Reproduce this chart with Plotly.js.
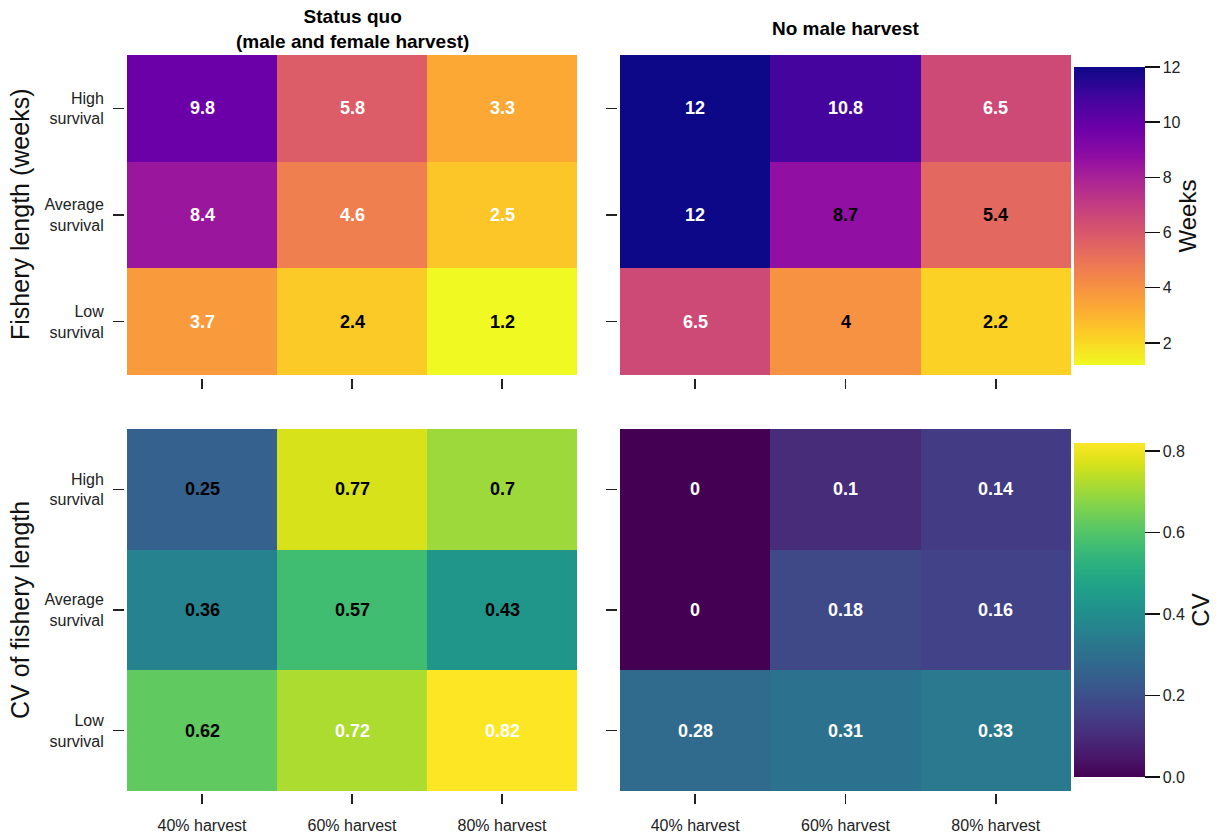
<!DOCTYPE html>
<html>
<head>
<meta charset="utf-8">
<script src="https://cdn.plot.ly/plotly-3.0.1.min.js"></script>
<style>html,body{margin:0;padding:0;background:#fff;}#chart{width:1225px;height:836px;}</style>
</head>
<body>
<div id="chart"></div>
<script>
// ---- data ----
const harvestLevels = ['40% harvest', '60% harvest', '80% harvest'];
const survivalLevels = ['Low survival', 'Average survival', 'High survival'];
const panelTitles = ['Status quo<br>(male and female harvest)', 'No male harvest'];
const rowTitles = ['Fishery length (weeks)', 'CV of fishery length'];
const colorbarTitles = ['Weeks', 'CV'];

// rows ordered Low, Average, High survival
const weeksStatusQuo = [[3.7, 2.4, 1.2], [8.4, 4.6, 2.5], [9.8, 5.8, 3.3]];
const weeksNoMale    = [[6.5, 4, 2.2], [12, 8.7, 5.4], [12, 10.8, 6.5]];
const cvStatusQuo    = [[0.62, 0.72, 0.82], [0.36, 0.57, 0.43], [0.25, 0.77, 0.7]];
const cvNoMale       = [[0.28, 0.31, 0.33], [0, 0.18, 0.16], [0, 0.1, 0.14]];

const weeksTicks = [2, 4, 6, 8, 10, 12];
const cvTicks = [0, 0.2, 0.4, 0.6, 0.8];

// label colours per cell (w = white, k = black), same row order
const txtWeeksStatusQuo = [['w','k','k'], ['w','w','w'], ['w','w','w']];
const txtWeeksNoMale    = [['w','k','k'], ['w','k','k'], ['w','w','w']];
const txtCvStatusQuo    = [['k','w','w'], ['k','k','k'], ['k','k','k']];
const txtCvNoMale       = [['w','w','w'], ['w','w','w'], ['w','w','w']];

// ---- styling ----
const W = 1225, H = 836;
const px = v => v / W;
const py = v => 1 - v / H;
const FONT = 'Liberation Sans, Arial, sans-serif';

const plasmaR = [[0,'#f0f921'],[0.1,'#fcce25'],[0.2,'#fca636'],[0.3,'#f2844b'],[0.4,'#e16462'],
  [0.5,'#cc4778'],[0.6,'#b12a90'],[0.7,'#8f0da4'],[0.8,'#6a00a8'],[0.9,'#41049d'],[1,'#0d0887']];

const colL = [127, 577], colR = [620, 1071];
const rowT = [55, 375], rowB = [429, 791];

function hm(z, xa, ya, scale, zmin, zmax, cb) {
  return {
    type: 'heatmap', z: z, x: harvestLevels, y: survivalLevels,
    xaxis: xa, yaxis: ya, colorscale: scale, zmin: zmin, zmax: zmax,
    showscale: !!cb, colorbar: cb, xgap: 0, ygap: 0, hoverinfo: 'x+y+z'
  };
}

function cbar(top, bottom, ticks, title, fmt) {
  return {
    x: px(1074), xanchor: 'left', xpad: 0, ypad: 0,
    y: py((top + bottom) / 2), yanchor: 'middle',
    thickness: 71, thicknessmode: 'pixels',
    len: bottom - top, lenmode: 'pixels',
    tickvals: ticks, tickformat: fmt, ticks: 'outside', ticklen: 15, tickwidth: 1.5, tickcolor: '#111',
    tickfont: {family: FONT, size: 16, color: '#222'},
    outlinewidth: 0,
    title: {text: title, side: 'right', font: {family: FONT, size: 24, color: '#111'}}
  };
}

const data = [
  hm(weeksStatusQuo, 'x', 'y', plasmaR, 1.2, 12, null),
  hm(weeksNoMale, 'x2', 'y2', plasmaR, 1.2, 12, cbar(67, 365, weeksTicks, colorbarTitles[0], '')),
  hm(cvStatusQuo, 'x3', 'y3', 'Viridis', 0, 0.82, null),
  hm(cvNoMale, 'x4', 'y4', 'Viridis', 0, 0.82, cbar(443, 777, cvTicks, colorbarTitles[1], '.1f'))
];

function xax(dom, posY, labels) {
  return {
    domain: [px(dom[0]), px(dom[1])], anchor: 'free', position: posY,
    type: 'category', showgrid: false, zeroline: false, showline: false,
    ticks: 'outside', ticklen: 10, tickwidth: 1.5, tickcolor: '#222',
    showticklabels: labels, ticklabelstandoff: 8,
    tickfont: {family: FONT, size: 16, color: '#222'}, fixedrange: true
  };
}
function yax(dom, posX, labels) {
  return {
    domain: [py(dom[1]), py(dom[0])], anchor: 'free', position: posX,
    type: 'category', showgrid: false, zeroline: false, showline: false,
    ticks: 'outside', ticklen: 11, tickwidth: 1.5, tickcolor: '#222',
    showticklabels: labels, ticklabelstandoff: 6,
    tickvals: survivalLevels, ticktext: survivalLevels.map(s => s.replace(' ', '<br>')),
    tickfont: {family: FONT, size: 16, color: '#222'}, fixedrange: true
  };
}

const layout = {
  width: W, height: H,
  margin: {l: 0, r: 0, t: 0, b: 0},
  paper_bgcolor: '#fff', plot_bgcolor: '#fff',
  font: {family: FONT, color: '#222'},
  xaxis:  xax(colL, py(378), false),
  yaxis:  yax(rowT, px(124), true),
  xaxis2: xax(colR, py(378), false),
  yaxis2: yax(rowT, px(617), false),
  xaxis3: xax(colL, py(793), true),
  yaxis3: yax(rowB, px(124), true),
  xaxis4: xax(colR, py(793), true),
  yaxis4: yax(rowB, px(617), false),
  annotations: []
};

// panel titles
[[colL, panelTitles[0]], [colR, panelTitles[1]]].forEach(([c, t]) => {
  layout.annotations.push({
    xref: 'paper', yref: 'paper', x: px((c[0] + c[1]) / 2), y: py(29),
    xanchor: 'center', yanchor: 'middle', showarrow: false,
    text: '<b>' + t + '</b>', font: {family: FONT, size: 19, color: '#000'}
  });
});
// row titles
[[rowT, rowTitles[0]], [rowB, rowTitles[1]]].forEach(([r, t]) => {
  layout.annotations.push({
    xref: 'paper', yref: 'paper', x: px(20), y: py((r[0] + r[1]) / 2),
    xanchor: 'center', yanchor: 'middle', showarrow: false, textangle: -90,
    text: t, font: {family: FONT, size: 25, color: '#111'}
  });
});

// cell labels
function cellLabels(z, cols, xa, ya) {
  z.forEach((row, i) => row.forEach((v, j) => {
    layout.annotations.push({
      xref: xa, yref: ya, x: harvestLevels[j], y: survivalLevels[i],
      showarrow: false, text: '<b>' + v + '</b>',
      font: {family: FONT, size: 18, color: cols[i][j] === 'w' ? '#ffffff' : '#000000'}
    });
  }));
}
cellLabels(weeksStatusQuo, txtWeeksStatusQuo, 'x', 'y');
cellLabels(weeksNoMale, txtWeeksNoMale, 'x2', 'y2');
cellLabels(cvStatusQuo, txtCvStatusQuo, 'x3', 'y3');
cellLabels(cvNoMale, txtCvNoMale, 'x4', 'y4');

Plotly.newPlot('chart', data, layout, {displayModeBar: false, staticPlot: true});
</script>
</body>
</html>
